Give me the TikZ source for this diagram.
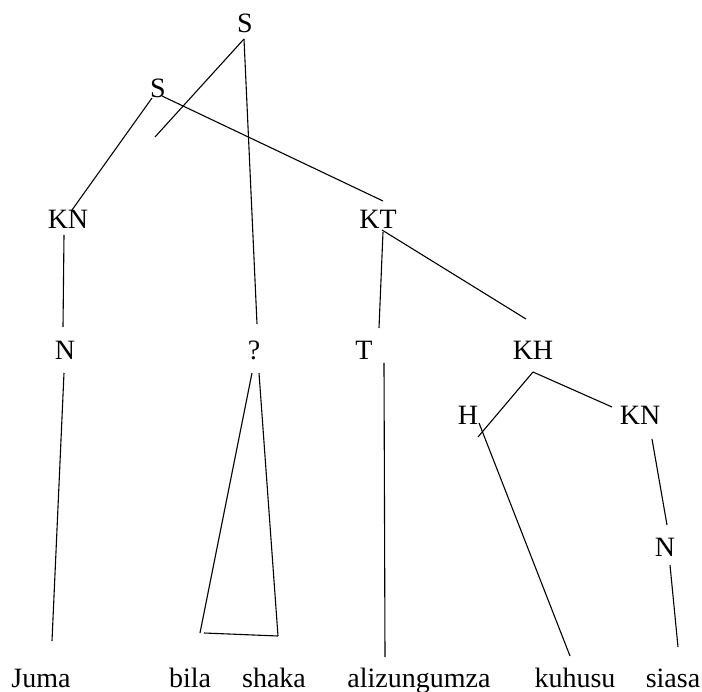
\documentclass[tikz,border=0pt]{standalone}
\usepackage{fontspec}
\setmainfont{Liberation Serif}
\begin{document}
\begin{tikzpicture}[x=1pt,y=-1pt,
  lbl/.style={inner sep=0pt,anchor=base,font=\fontsize{28}{30}\selectfont},
  edge/.style={line width=1.1pt,line cap=butt}]
\useasboundingbox (0,0) rectangle (702,692);
% labels
\node[lbl] (S0) at (245,33) {S};
\node[lbl] (S1) at (158,98) {S};
\node[lbl] (KN1) at (68,229) {KN};
\node[lbl] (KT) at (378,229) {KT};
\node[lbl] (N1) at (65,360) {N};
\node[lbl] (Q) at (254,360) {?};
\node[lbl] (T) at (364,360) {T};
\node[lbl] (KH) at (533,360) {KH};
\node[lbl] (H) at (468,425) {H};
\node[lbl] (KN2) at (640,425) {KN};
\node[lbl] (N2) at (665,557) {N};
\node[lbl] (w1) at (41,687) {Juma};
\node[lbl] (w2) at (190,687) {bila};
\node[lbl] (w3) at (274,687) {shaka};
\node[lbl] (w4) at (419,687) {alizungumza};
\node[lbl] (w5) at (575,687) {kuhusu};
\node[lbl] (w6) at (673,687) {siasa};
% connector ends
\coordinate (S0a) at (244,39);
\coordinate (S0free) at (155,137);
\coordinate (Qtop) at (257,324);
\coordinate (S1l) at (152,98);
\coordinate (KN1top) at (72,210);
\coordinate (S1r) at (162,96);
\coordinate (KTtop) at (383,201);
\coordinate (KN1bot) at (64,235);
\coordinate (N1top) at (63,327);
\coordinate (N1bot) at (64,373);
\coordinate (w1top) at (52,641);
\coordinate (KTbotl) at (383,232);
\coordinate (Ttop) at (379,328);
\coordinate (KTbotr) at (382,230);
\coordinate (KHtop) at (526,319);
\coordinate (Tbot) at (384,363);
\coordinate (w4top) at (385,657);
\coordinate (Ql) at (252,373);
\coordinate (Qr) at (259,373);
\coordinate (Qbl) at (200,633);
\coordinate (Qbl2) at (204,633);
\coordinate (Qbr) at (278,636);
\coordinate (KHbot) at (533,372);
\coordinate (Htop) at (478,437);
\coordinate (KN2top) at (612,407);
\coordinate (Hbot) at (479,423);
\coordinate (w5top) at (570,656);
\coordinate (KN2bot) at (652,439);
\coordinate (N2top) at (667,525);
\coordinate (N2bot) at (670,565);
\coordinate (w6top) at (678,647);
% connectors
\draw[edge] (S0a) -- (Qtop);
\draw[edge] (S0a) -- (S0free);
\draw[edge] (S1l) -- (KN1top);
\draw[edge] (S1r) -- (KTtop);
\draw[edge] (KN1bot) -- (N1top);
\draw[edge] (N1bot) -- (w1top);
\draw[edge] (KTbotl) -- (Ttop);
\draw[edge] (KTbotr) -- (KHtop);
\draw[edge] (Tbot) -- (w4top);
\draw[edge] (Ql) -- (Qbl);
\draw[edge] (Qr) -- (Qbr);
\draw[edge] (Qbl2) -- (Qbr);
\draw[edge] (KHbot) -- (Htop);
\draw[edge] (KHbot) -- (KN2top);
\draw[edge] (Hbot) -- (w5top);
\draw[edge] (KN2bot) -- (N2top);
\draw[edge] (N2bot) -- (w6top);
\end{tikzpicture}
\end{document}
